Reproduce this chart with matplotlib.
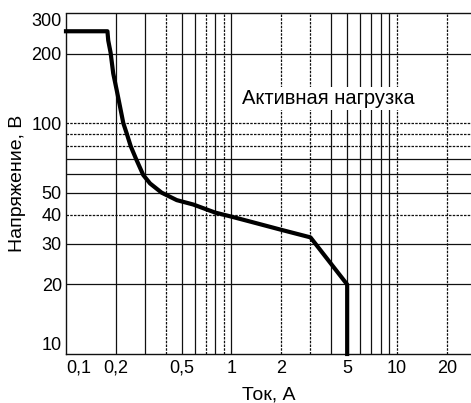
import matplotlib
matplotlib.use("Agg")
import matplotlib.pyplot as plt
from matplotlib import font_manager
from matplotlib.ticker import FixedLocator, NullLocator

# ── data ──────────────────────────────────────────────────────────────────
current = [0.1, 0.178, 0.18, 0.186, 0.193, 0.2025, 0.212, 0.222, 0.233,
           0.246, 0.265, 0.293, 0.322, 0.378, 0.467, 0.588, 0.795, 1.02,
           1.29, 2.0, 3.0, 5.0, 5.0]
voltage = [250, 250, 228, 202, 164, 139, 118, 100, 90,
           79.5, 70, 59.6, 54.8, 50, 46.4, 44.4, 41, 39.2,
           37.5, 34.5, 32, 20, 10]

x_ticks = [0.1, 0.2, 0.5, 1, 2, 5, 10, 20]
x_labels = ["0,1", "0,2", "0,5", "1", "2", "5", "10", "20"]
y_ticks = [10, 20, 30, 40, 50, 100, 200, 300]
y_labels = ["10", "20", "30", "40", "50", "100", "200", "300"]

x_grid = [0.2, 0.3, 0.4, 0.5, 0.6, 0.7, 0.8, 0.9, 1, 2, 3, 4, 5, 6, 7, 8, 9, 10, 20]
y_grid = [20, 30, 40, 50, 60, 70, 80, 90, 100, 200]
x_dotted = [0.4, 0.7, 0.9, 2, 3, 10, 20]
y_dotted = [40, 80, 90, 100]

TEXT_FONT = ["Liberation Sans", "DejaVu Sans"]
TICK_FONT = TEXT_FONT
TICK_SIZE = 13
INK = "#111111"

# ── figure ────────────────────────────────────────────────────────────────
fig = plt.figure(figsize=(4.71, 4.03), dpi=100, facecolor="white")
ax = fig.add_axes([0.1401, 0.1216, 0.8599, 0.8462])
ax.set_xscale("log")
ax.set_yscale("log")
ax.set_xlim(0.1, 28)
ax.set_ylim(10, 300)

# grid (drawn by hand: irregular set of lines)
for gx in x_grid:
    ls = (0, (2, 1)) if gx in x_dotted else "-"
    ax.axvline(gx, color=INK, lw=0.9, ls=ls, zorder=1)
for gy in y_grid:
    ls = (0, (2, 1)) if gy in y_dotted else "-"
    ax.axhline(gy, color=INK, lw=0.9, ls=ls, zorder=1)

# curve
ax.plot(current, voltage, color="black", lw=3, solid_joinstyle="round",
        zorder=3, clip_on=False)

# spines
ax.spines["right"].set_visible(False)
ax.spines["top"].set_color(INK)
ax.spines["top"].set_linewidth(1.0)
for side in ("left", "bottom"):
    ax.spines[side].set_color(INK)
    ax.spines[side].set_linewidth(1.0)
    ax.spines[side].set_linestyle((0, (2, 1)))

# ticks
ax.xaxis.set_major_locator(FixedLocator(x_ticks))
ax.xaxis.set_minor_locator(NullLocator())
ax.yaxis.set_major_locator(FixedLocator(y_ticks))
ax.yaxis.set_minor_locator(NullLocator())
ax.set_xticklabels(x_labels, family=TICK_FONT, fontsize=TICK_SIZE)
ax.set_yticklabels(y_labels, family=TICK_FONT, fontsize=TICK_SIZE)
ax.tick_params(length=0)
ax.tick_params(axis="x", pad=4)
ax.tick_params(axis="y", pad=3)

ax.get_xticklabels()[0].set_ha("left")
ax.get_yticklabels()[0].set_va("bottom")
ax.get_yticklabels()[-1].set_va("top")

# labels
ax.set_xlabel("Ток, А", family=TEXT_FONT, fontsize=14, labelpad=7)
ax.set_ylabel("Напряжение, В", family=TEXT_FONT, fontsize=14, labelpad=4)

ax.text(1.16, 121, "Активная нагрузка", family=TEXT_FONT, fontsize=14.5,
        ha="left", va="baseline", zorder=2,
        bbox=dict(boxstyle="square,pad=0.1", facecolor="white", edgecolor="none"))

fig.savefig("out.png", dpi=100, facecolor="white")
